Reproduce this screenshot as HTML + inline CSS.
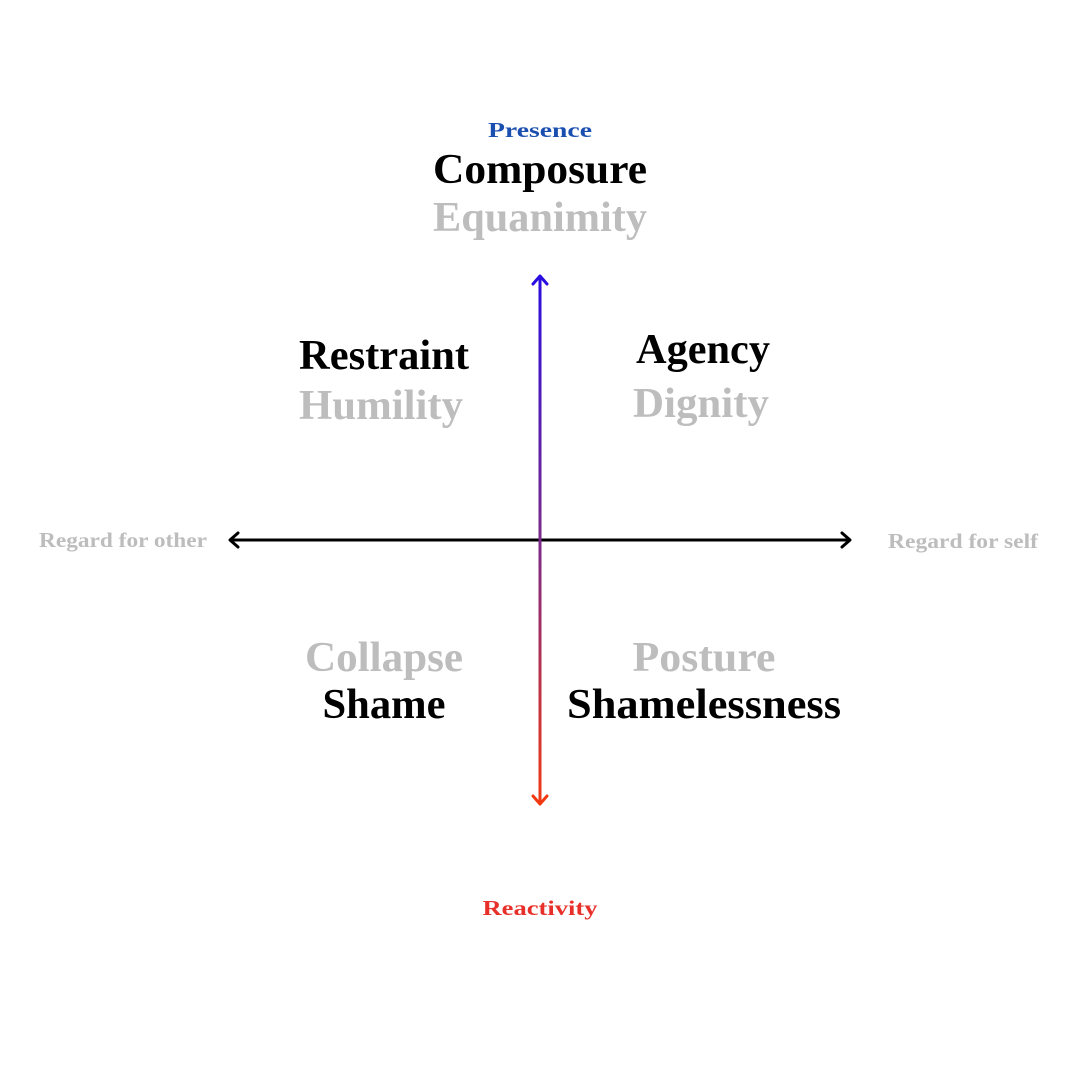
<!DOCTYPE html>
<html><head><meta charset="utf-8"><style>
html,body{margin:0;padding:0;background:#fff;}
svg{display:block;}
text{font-family:"Liberation Serif",serif;font-weight:bold;text-anchor:middle;}
.b{font-size:42px;fill:#000;}
.g{font-size:42px;fill:#bdbdbd;}
.s{font-size:21px;}
</style></head><body>
<svg width="1080" height="1080" viewBox="0 0 1080 1080">
<defs>
<linearGradient id="vg" x1="0" y1="275" x2="0" y2="805" gradientUnits="userSpaceOnUse">
<stop offset="0" stop-color="#2a0ee0"/>
<stop offset="0.5" stop-color="#7a2a8a"/>
<stop offset="1" stop-color="#f23a12"/>
</linearGradient>
</defs>
<line x1="230" y1="540" x2="850" y2="540" stroke="#000" stroke-width="3"/>
<polyline points="238,533 230,540 238,547" fill="none" stroke="#000" stroke-width="3" stroke-linecap="round" stroke-linejoin="round"/>
<polyline points="842,533 850,540 842,547" fill="none" stroke="#000" stroke-width="3" stroke-linecap="round" stroke-linejoin="round"/>
<rect x="538.5" y="276" width="3" height="528" fill="url(#vg)"/>
<polyline points="533,284 540,276 547,284" fill="none" stroke="#2a0ee0" stroke-width="3" stroke-linecap="round" stroke-linejoin="round"/>
<polyline points="533,796 540,804 547,796" fill="none" stroke="#f23a12" stroke-width="3" stroke-linecap="round" stroke-linejoin="round"/>

<text x="540" y="137" class="s" fill="#1a4fb0" textLength="104" lengthAdjust="spacingAndGlyphs">Presence</text>
<text x="540" y="183" class="b" textLength="214" lengthAdjust="spacingAndGlyphs">Composure</text>
<text x="540" y="231" class="g" textLength="214" lengthAdjust="spacingAndGlyphs">Equanimity</text>

<text x="384" y="369" class="b" textLength="170" lengthAdjust="spacingAndGlyphs">Restraint</text>
<text x="381" y="419" class="g" textLength="164" lengthAdjust="spacingAndGlyphs">Humility</text>

<text x="703" y="363" class="b" textLength="134" lengthAdjust="spacingAndGlyphs">Agency</text>
<text x="701" y="417" class="g" textLength="136" lengthAdjust="spacingAndGlyphs">Dignity</text>

<text x="384" y="671" class="g" textLength="158" lengthAdjust="spacingAndGlyphs">Collapse</text>
<text x="384" y="718" class="b" textLength="123" lengthAdjust="spacingAndGlyphs">Shame</text>

<text x="704" y="671" class="g" textLength="143" lengthAdjust="spacingAndGlyphs">Posture</text>
<text x="704" y="718" class="b" textLength="274" lengthAdjust="spacingAndGlyphs">Shamelessness</text>

<text x="123" y="547" class="s" fill="#bdbdbd" textLength="168" lengthAdjust="spacingAndGlyphs">Regard for other</text>
<text x="963" y="548" class="s" fill="#bdbdbd" textLength="150" lengthAdjust="spacingAndGlyphs">Regard for self</text>

<text x="540" y="915" class="s" fill="#e8302a" textLength="115" lengthAdjust="spacingAndGlyphs">Reactivity</text>
</svg>
</body></html>
